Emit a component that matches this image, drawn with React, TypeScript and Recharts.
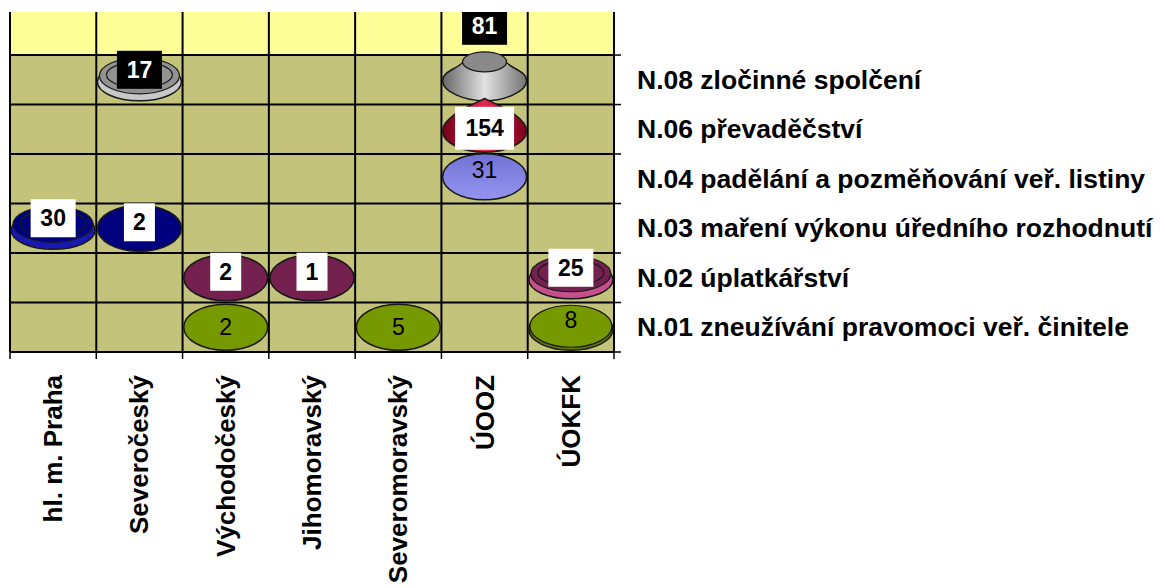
import { ScatterChart, Scatter, XAxis, YAxis, CartesianGrid } from 'recharts';

const categories = [
  'hl. m. Praha',
  'Severočeský',
  'Východočeský',
  'Jihomoravský',
  'Severomoravský',
  'ÚOOZ',
  'ÚOKFK',
];

// rows listed bottom to top
const rowLabels = [
  'N.01 zneužívání pravomoci veř. činitele',
  'N.02 úplatkářství',
  'N.03 maření výkonu úředního rozhodnutí',
  'N.04 padělání a pozměňování veř. listiny',
  'N.06 převaděčství',
  'N.08 zločinné spolčení',
];

const n01 = [null, null, 2, null, 5, null, 8];
const n02 = [null, null, 2, 1, null, null, 25];
const n03 = [30, 2, null, null, null, null, null];
const n04 = [null, null, null, null, null, 31, null];
const n06 = [null, null, null, null, null, 154, null];
const n08 = [null, 17, null, null, null, 81, null];

const columnTicks = [0, 1, 2, 3, 4, 5, 6, 7];
const rowTicks = [0, 1, 2, 3, 4, 5, 6];
const Y_MAX = 6.87;

const FONT = '"Liberation Sans", Arial, sans-serif';

type Style = {
  face: string;
  rim?: string;
  box: 'black' | 'white' | 'none';
  glossy?: boolean;
};

const styles: Style[] = [
  { face: '#779900', rim: '#5f7a00', box: 'none' },
  { face: '#74214f', rim: '#c4508c', box: 'white' },
  { face: '#00007f', rim: '#1818b4', box: 'white' },
  { face: '#8484e2', box: 'none', glossy: true },
  { face: '#b0102c', box: 'white' },
  { face: '#929292', rim: '#c8c8c8', box: 'black' },
];

const series = [n01, n02, n03, n04, n06, n08];

function toPoints(values: (number | null)[], row: number) {
  return values
    .map((v, i) => (v == null ? null : { x: i + 0.5, y: row + 0.5, v, col: i }))
    .filter(Boolean) as { x: number; y: number; v: number; col: number }[];
}

function kindOf(v: number, s: Style) {
  if (s.glossy) return 'glossy';
  if (v >= 100) return 'cone';
  if (v >= 50) return 'bell';
  if (v >= 15) return 'disc';
  if (v >= 8) return 'thin';
  return 'flat';
}

function ValueLabel({ x, y, value, box }: { x: number; y: number; value: number; box: Style['box'] }) {
  const text = String(value);
  const w = 17 + 14 * text.length;
  const h = text.length > 2 ? 43 : 38;
  return (
    <g>
      {box !== 'none' && (
        <rect x={x - w / 2} y={y - h / 2} width={w} height={h} fill={box === 'black' ? '#000' : '#fff'} />
      )}
      <text
        x={x}
        y={y}
        textAnchor="middle"
        dominantBaseline="central"
        fontFamily={FONT}
        fontSize={23}
        fontWeight={box === 'none' ? 'normal' : 'bold'}
        fill={box === 'black' ? '#fff' : '#000'}
      >
        {text}
      </text>
    </g>
  );
}

function Marker(props: any) {
  const { cx, cy, payload, s, row } = props;
  const v: number = payload.v;
  const kind = kindOf(v, s);
  const id = `m-${row}-${payload.col}`;
  const st = '#1a1a1a';
  let body: any = null;
  let dy = 0;

  if (kind === 'flat') {
    body = <ellipse cx={cx} cy={cy} rx={42} ry={23} fill={s.face} stroke={st} strokeWidth={1.5} />;
    dy = s.box === 'none' ? 0 : -6;
  } else if (kind === 'thin') {
    body = (
      <g>
        <ellipse cx={cx} cy={cy + 2} rx={42} ry={21} fill={s.rim} stroke={st} strokeWidth={1.5} />
        <ellipse cx={cx} cy={cy - 1} rx={41} ry={21} fill={s.face} stroke={st} strokeWidth={1.2} />
      </g>
    );
    dy = -7;
  } else if (kind === 'glossy') {
    body = (
      <g>
        <defs>
          <linearGradient id={id} x1="0" y1="0" x2="0" y2="1">
            <stop offset="0%" stopColor="#7272d4" />
            <stop offset="100%" stopColor="#9494f0" />
          </linearGradient>
        </defs>
        <ellipse cx={cx} cy={cy - 2} rx={42} ry={23} fill={`url(#${id})`} stroke={st} strokeWidth={1.5} />
      </g>
    );
    dy = -9;
  } else if (kind === 'disc') {
    body = (
      <g>
        <ellipse cx={cx} cy={cy + 2} rx={42} ry={19} fill={s.rim} stroke={st} strokeWidth={1.5} />
        <ellipse cx={cx} cy={cy - 4} rx={40} ry={18} fill={s.face} stroke={st} strokeWidth={1.2} />
        <ellipse cx={cx} cy={cy - 5} rx={33} ry={13} fill="none" stroke={st} strokeWidth={1.2} />
      </g>
    );
    dy = -10;
  } else if (kind === 'bell') {
    const d = `M${cx - 22},${cy - 17} C${cx - 30},${cy - 10} ${cx - 42},${cy - 8} ${cx - 42},${cy + 1} C${cx - 42},${cy + 12} ${cx - 20},${cy + 21} ${cx},${cy + 21} C${cx + 20},${cy + 21} ${cx + 42},${cy + 12} ${cx + 42},${cy + 1} C${cx + 42},${cy - 8} ${cx + 30},${cy - 10} ${cx + 22},${cy - 17} Z`;
    body = (
      <g>
        <defs>
          <linearGradient id={id} x1="0" y1="0" x2="1" y2="0">
            <stop offset="0%" stopColor="#666" />
            <stop offset="50%" stopColor="#e2e2e2" />
            <stop offset="100%" stopColor="#737373" />
          </linearGradient>
        </defs>
        <path d={d} fill={`url(#${id})`} stroke={st} strokeWidth={1.5} />
        <ellipse cx={cx} cy={cy - 18} rx={22} ry={10} fill="#8a8a8a" stroke={st} strokeWidth={1.3} />
      </g>
    );
    dy = -54;
  } else {
    const d = `M${cx},${cy - 31} C${cx - 8},${cy - 26} ${cx - 42},${cy - 14} ${cx - 42},${cy + 2} C${cx - 42},${cy + 14} ${cx - 20},${cy + 23} ${cx},${cy + 23} C${cx + 20},${cy + 23} ${cx + 42},${cy + 14} ${cx + 42},${cy + 2} C${cx + 42},${cy - 14} ${cx + 8},${cy - 26} ${cx},${cy - 31} Z`;
    body = (
      <g>
        <defs>
          <linearGradient id={id} x1="0" y1="0" x2="1" y2="0">
            <stop offset="0%" stopColor="#70001a" />
            <stop offset="50%" stopColor="#e42a4c" />
            <stop offset="100%" stopColor="#7a001c" />
          </linearGradient>
        </defs>
        <path d={d} fill={`url(#${id})`} stroke={st} strokeWidth={1.5} />
      </g>
    );
    dy = -1;
  }

  return (
    <g>
      {body}
      <ValueLabel x={cx} y={cy + dy} value={v} box={s.box} />
    </g>
  );
}

function CategoryTick({ x, y, payload }: any) {
  const name = categories[Math.floor(payload.value)];
  return (
    <g transform={`translate(${x},${y + 15}) rotate(-90)`}>
      <text textAnchor="end" dominantBaseline="central" fontFamily={FONT} fontSize={26} fontWeight="bold" fill="#000">
        {name}
      </text>
    </g>
  );
}

function RowTick({ x, y, payload }: any) {
  const name = rowLabels[Math.floor(payload.value)];
  return (
    <text x={x + 15} y={y} dominantBaseline="central" fontFamily={FONT} fontSize={26.5} fontWeight="bold" fill="#000">
      {name}
    </text>
  );
}

const NoLabel = () => <g />;

export default function App() {
  const order = [5, 4, 3, 2, 1, 0];
  return (
    <div style={{ position: 'absolute', left: 8, top: 12 }}>
      <ScatterChart width={1157} height={576} margin={{ top: 0, right: 0, bottom: 0, left: 2 }}>
        <CartesianGrid
          stroke="#000"
          strokeWidth={2}
          strokeOpacity={1}
          verticalValues={columnTicks}
          horizontalValues={rowTicks}
          horizontalFill={['#ffff99', '#c4c37c', '#c4c37c', '#c4c37c', '#c4c37c', '#c4c37c', '#c4c37c', '#c4c37c']}
        />
        <XAxis
          type="number"
          dataKey="x"
          domain={[0, 7]}
          ticks={columnTicks}
          interval={0}
          height={8}
          tickSize={7}
          tick={<NoLabel />}
          stroke="#000"
          strokeWidth={1.5}
          allowDataOverflow
        />
        <XAxis
          xAxisId="lab"
          type="number"
          dataKey="x"
          domain={[0, 7]}
          ticks={categories.map((_, i) => i + 0.5)}
          interval={0}
          height={228}
          tickSize={0}
          tickMargin={0}
          tickLine={false}
          axisLine={false}
          tick={<CategoryTick />}
          allowDataOverflow
        />
        <YAxis
          orientation="right"
          type="number"
          dataKey="y"
          domain={[0, Y_MAX]}
          ticks={rowTicks}
          interval={0}
          width={8}
          tickSize={7}
          tick={<NoLabel />}
          stroke="#000"
          strokeWidth={1.5}
          allowDataOverflow
        />
        <YAxis
          yAxisId="lab"
          orientation="right"
          type="number"
          dataKey="y"
          domain={[0, Y_MAX]}
          ticks={rowLabels.map((_, i) => i + 0.5)}
          interval={0}
          width={543}
          tickSize={0}
          tickMargin={0}
          tickLine={false}
          axisLine={false}
          tick={<RowTick />}
          allowDataOverflow
        />
        {order.map((row) => (
          <Scatter
            key={row}
            data={toPoints(series[row], row)}
            isAnimationActive={false}
            shape={(p: any) => <Marker {...p} s={styles[row]} row={row} />}
          />
        ))}
      </ScatterChart>
    </div>
  );
}
